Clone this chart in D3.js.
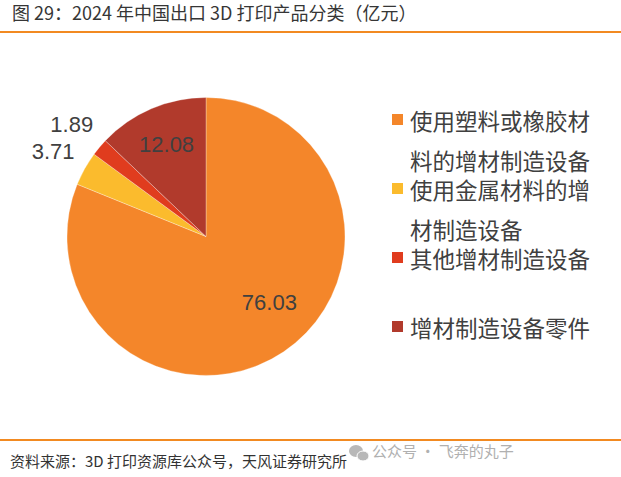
<!DOCTYPE html>
<html lang="zh">
<head>
  <meta charset="UTF-8">
  <title>图 29</title>
  <style>
  body { margin: 0; background: #fff; }
  svg { display: block; }
  text { font-family: "Noto Sans CJK SC", "Liberation Sans", sans-serif; }
  .num { font-family: "Liberation Sans", Arial, sans-serif; }
  </style>
</head>
<body>
  <svg></svg>
  <script src="https://d3js.org/d3.v7.min.js"></script>
  <script>
  // data
  var categories = ["使用塑料或橡胶材料的增材制造设备", "使用金属材料的增材制造设备", "其他增材制造设备", "增材制造设备零件"];
  var legendLines = [["使用塑料或橡胶材", "料的增材制造设备"], ["使用金属材料的增", "材制造设备"], ["其他增材制造设备"], ["增材制造设备零件"]];
  var values = [76.03, 3.71, 1.89, 12.08];
  var colors = ["#F4862A", "#FBBB2D", "#E03C1E", "#B13A2C"];

  var width = 621;
  var height = 477;
  var cx = 206, cy = 236.5, radius = 139;

  var svg = d3.select("svg")
      .attr("width", width)
      .attr("height", height);

  // title + rule
  svg.append("text")
      .attr("x", 12).attr("y", 20)
      .attr("font-size", 18)
      .attr("fill", "#363636")
      .text("图 29：2024 年中国出口 3D 打印产品分类（亿元）");
  svg.append("line")
      .attr("x1", 0).attr("x2", width)
      .attr("y1", 32).attr("y2", 32)
      .attr("stroke", "#F28A21").attr("stroke-width", 2);

  var pie = d3.pie().sort(null).value(d => d);
  var arcs = pie(values);
  var arc = d3.arc().innerRadius(0).outerRadius(radius);

  var g = svg.append("g").attr("transform", "translate(" + cx + "," + cy + ")");
  g.selectAll("path")
    .data(arcs)
    .enter()
    .append("path")
      .attr("d", arc)
      .attr("fill", (d, i) => colors[i])
      .attr("stroke", "#fff")
      .attr("stroke-width", 0.3);

  // labels: big slices inside, small ones outside
  function labelPos(d, i) {
    var a = (d.startAngle + d.endAngle) / 2;
    var r = radius * 0.72;
    if (i === 0) { a -= 0.17; r = radius * 0.66; }
    if (d.endAngle - d.startAngle < 0.3) r = radius * 1.26;
    return [Math.sin(a) * r, -Math.cos(a) * r];
  }
  g.selectAll("text.lbl")
    .data(arcs)
    .enter()
    .append("text")
      .attr("class", "lbl num")
      .attr("x", (d, i) => labelPos(d, i)[0])
      .attr("y", (d, i) => labelPos(d, i)[1])
      .attr("text-anchor", "middle")
      .attr("dominant-baseline", "central")
      .attr("font-size", 22)
      .attr("fill", "#404040")
      .text(d => d.data.toFixed(2));

  // legend
  var legendY = d3.scaleLinear().domain([0, 3]).range([120, 327]);
  var leg = svg.selectAll("g.leg")
    .data(categories)
    .enter()
    .append("g")
      .attr("class", "leg")
      .attr("transform", (d, i) => "translate(392," + legendY(i) + ")");
  leg.append("rect")
      .attr("x", 0).attr("y", -6)
      .attr("width", 11).attr("height", 11)
      .attr("fill", (d, i) => colors[i]);
  leg.each(function(d, i) {
    d3.select(this).selectAll("text")
      .data(legendLines[i])
      .enter()
      .append("text")
        .attr("x", 18)
        .attr("y", (t, j) => j * 40)
        .attr("dominant-baseline", "central")
        .attr("font-size", 22.5)
        .attr("fill", "#404040")
        .text(t => t);
  });

  // footer
  svg.append("line")
      .attr("x1", 0).attr("x2", width)
      .attr("y1", 440).attr("y2", 440)
      .attr("stroke", "#F28A21").attr("stroke-width", 2);
  svg.append("text")
      .attr("x", 10).attr("y", 467)
      .attr("font-size", 15)
      .attr("fill", "#333")
      .text("资料来源：3D 打印资源库公众号，天风证券研究所");

  // watermark
  var wm = svg.append("g").attr("transform", "translate(349,444)");
  wm.append("ellipse").attr("cx", 7).attr("cy", 7).attr("rx", 7).attr("ry", 6).attr("fill", "#b8b8b8");
  wm.append("ellipse").attr("cx", 14).attr("cy", 12).attr("rx", 6).attr("ry", 5).attr("fill", "#b8b8b8").attr("stroke", "#fff").attr("stroke-width", 1);
  wm.append("text")
      .attr("x", 23).attr("y", 13)
      .attr("font-size", 15)
      .attr("fill", "#b0b0b0")
      .text("公众号 · 飞奔的丸子");
  </script>
</body>
</html>
